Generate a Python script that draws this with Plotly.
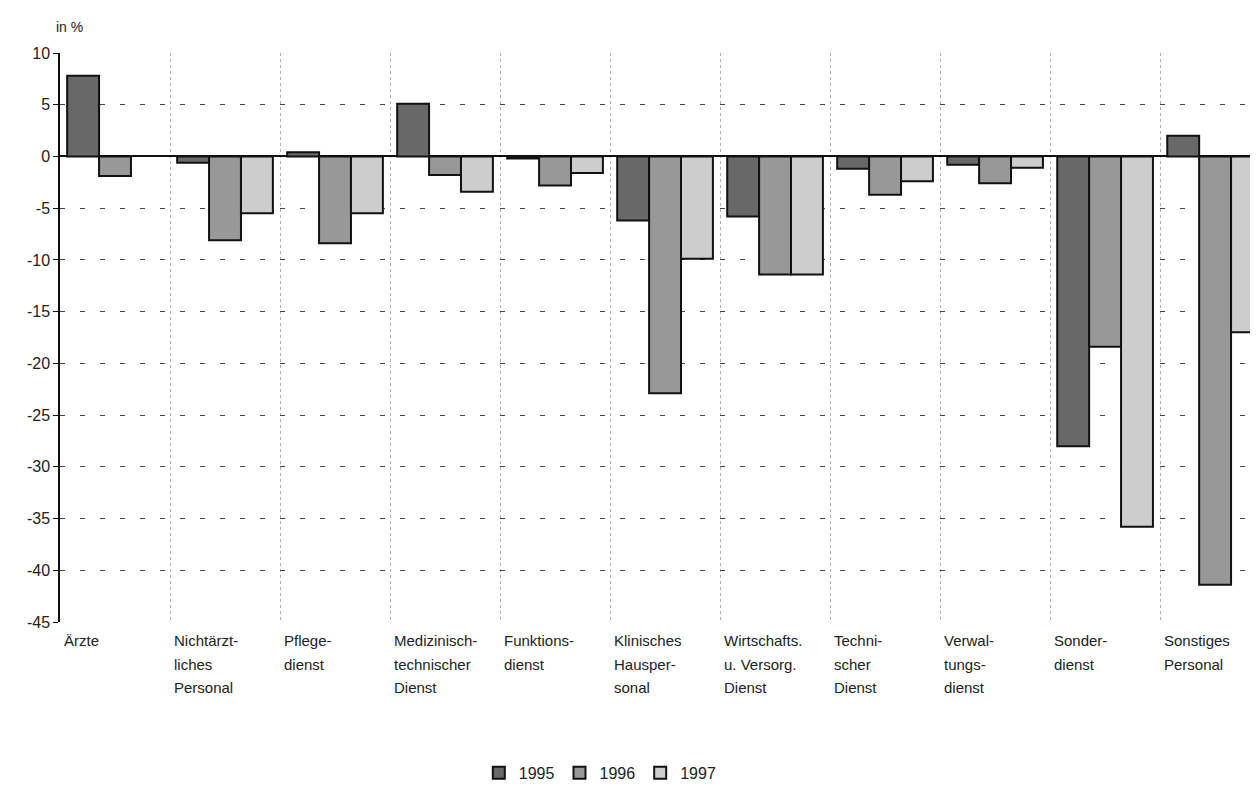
import plotly.graph_objects as go

categories = ["Ärzte", "Nichtärzt-<br>liches<br>Personal", "Pflege-<br>dienst",
              "Medizinisch-<br>technischer<br>Dienst", "Funktions-<br>dienst",
              "Klinisches<br>Hausper-<br>sonal", "Wirtschafts.<br>u. Versorg.<br>Dienst",
              "Techni-<br>scher<br>Dienst", "Verwal-<br>tungs-<br>dienst",
              "Sonder-<br>dienst", "Sonstiges<br>Personal"]
keys = [f"c{i}" for i in range(len(categories))]

v1995 = [7.8, -0.6, 0.4, 5.1, -0.2, -6.2, -5.8, -1.2, -0.8, -28.0, 2.0]
v1996 = [-1.9, -8.1, -8.4, -1.8, -2.8, -22.9, -11.4, -3.7, -2.6, -18.4, -41.4]
v1997 = [None, -5.5, -5.5, -3.4, -1.6, -9.9, -11.4, -2.4, -1.1, -35.8, -17.0]

y_ticks = [10, 5, 0, -5, -10, -15, -20, -25, -30, -35, -40, -45]
y_tick_labels = ["10", "5", "0", "-5", "-10", "-15", "-20", "-25", "-30", "-35", "-40", "-45"]

series = [("1995", v1995, "#686868"), ("1996", v1996, "#989898"), ("1997", v1997, "#cdcdcd")]
FONT = "Liberation Sans, Arial, Helvetica"

fig = go.Figure()
for name, vals, col in series:
    fig.add_trace(go.Bar(x=keys, y=vals, name=name, marker_color=col,
                         marker_line_color="#111111", marker_line_width=2))

for i, lab in enumerate(categories):
    for j, line in enumerate(lab.split("<br>")):
        fig.add_annotation(x=i - 0.5, y=0, xref="x", yref="paper", text=line,
                           xanchor="left", yanchor="top", align="left", showarrow=False,
                           xshift=2, yshift=-8 - 23.5 * j,
                           font=dict(family=FONT, size=15, color="#222"))

fig.add_annotation(x=0, y=1, xref="paper", yref="paper", text="in %", xanchor="left",
                   yanchor="bottom", yshift=16, xshift=-6, showarrow=False,
                   font=dict(family=FONT, size=14, color="#222"))

fig.update_layout(
    width=1250, height=804,
    margin=dict(l=52, r=0, t=45, b=190),
    paper_bgcolor="white", plot_bgcolor="white",
    barmode="group", bargap=0.13, bargroupgap=0,
    font=dict(family=FONT, size=15, color="#222"),
    legend=dict(orientation="h", x=0.451, xanchor="center", y=-0.265, yanchor="middle",
                font=dict(size=16), itemwidth=30, traceorder="normal"),
    showlegend=True,
)
fig.update_xaxes(range=[-0.5, 10.39], showticklabels=False, tickson="boundaries",
                 showgrid=True, gridcolor="#b0b0b0", griddash="dot", gridwidth=1,
                 ticks="", showline=False, zeroline=False)
fig.update_yaxes(range=[-45, 10], tickmode="array", tickvals=y_ticks, ticktext=y_tick_labels,
                 showgrid=True, gridcolor="#444",
                 griddash="5px,15px", gridwidth=1, zeroline=True, zerolinecolor="#111",
                 zerolinewidth=2, showline=True, linecolor="#111", linewidth=1.5,
                 ticks="outside", ticklen=5, tickcolor="#111",
                 tickfont=dict(family=FONT, size=16, color="#222"))

fig.write_html("out.html")
